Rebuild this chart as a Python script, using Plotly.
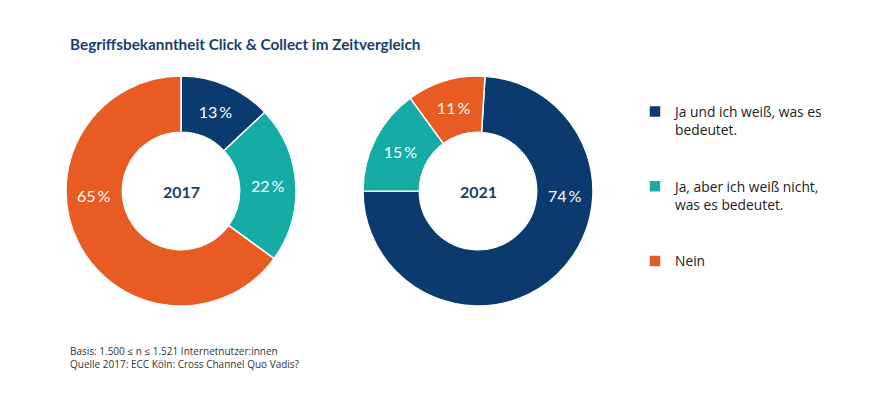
import plotly.graph_objects as go

labels = ["Ja und ich weiß, was es<br>bedeutet.",
          "Ja, aber ich weiß nicht,<br>was es bedeutet.",
          "Nein"]
legend_pad = ["<br> <br> ", "<br> <br> ", ""]
values_2017 = [13, 22, 65]
values_2021 = [74, 15, 11]
years = ["2017", "2021"]
colors = ["#0b3a6e", "#14aca4", "#e85c24"]

OFF = 8                      # page body margin of the browser
W, H = 887 - OFF, 408 - OFF
FONT = "Lato"
FONT2 = "Open Sans"
R, HOLE = 115, 0.51
legend_labels = [l + p for l, p in zip(labels, legend_pad)]

def px(x):
    return (x - OFF) / W

def py(y):
    return 1 - (y - OFF) / H

def dom(cx, cy, r):
    return dict(x=[px(cx - r), px(cx + r)], y=[py(cy + r), py(cy - r)])

fig = go.Figure()
pies = [(values_2017, 0, (181, 191), -1), (values_2021, 3.5, (478, 191), 1)]
r_mid = (R + HOLE * R) / 2
for vals, rot, (cx, cy), side in pies:
    big = vals.index(max(vals))
    tt = ["" if i == big else "%{value}\u2009%" for i in range(len(vals))]
    fig.add_trace(go.Pie(
        labels=legend_labels, values=vals, hole=HOLE, sort=False,
        direction="clockwise", rotation=rot,
        marker=dict(colors=colors, line=dict(color="white", width=1.5)),
        texttemplate=tt, textposition="inside",
        insidetextorientation="horizontal",
        textfont=dict(family=FONT, size=16, color="white"),
        hoverinfo="skip", domain=dom(cx, cy, R),
    ))
    # label of the largest slice sits at the side of the ring (as in the original)
    fig.add_annotation(x=px(cx + side * r_mid), y=py(cy + 4), xref="paper", yref="paper",
                       xanchor="center", yanchor="middle",
                       text=f"{vals[big]}\u2009%", showarrow=False,
                       font=dict(family=FONT, size=16, color="white"))

for yr, (_, _, (cx, cy), _) in zip(years, pies):
    fig.add_annotation(x=px(cx), y=py(cy), xref="paper", yref="paper",
                       xanchor="center", yanchor="middle",
                       text=f"<b>{yr}</b>", showarrow=False,
                       font=dict(family=FONT, size=16, color="#1b3d6e"))

fig.add_annotation(x=px(68), y=py(44), xref="paper", yref="paper",
                   xanchor="left", yanchor="middle", showarrow=False,
                   text="<b>Begriffsbekanntheit Click & Collect im Zeitvergleich</b>",
                   font=dict(family=FONT, size=15.3, color="#1b3d6e"))

fig.add_annotation(x=px(68), y=py(357), xref="paper", yref="paper",
                   xanchor="left", yanchor="middle", showarrow=False, align="left",
                   text="Basis: 1.500 ≤ n ≤ 1.521 Internetnutzer:innen<br>Quelle 2017: ECC Köln: Cross Channel Quo Vadis?",
                   font=dict(family=FONT2, size=10, color="#333333"))

fig.update_layout(
    width=W, height=H, margin=dict(l=0, r=0, t=0, b=0),
    paper_bgcolor="white", plot_bgcolor="white",
    showlegend=True,
    legend=dict(x=px(635), y=py(96), xanchor="left", yanchor="top",
                valign="top", font=dict(family=FONT2, size=13.8, color="#222222"),
                bgcolor="rgba(0,0,0,0)"),
)

fig.write_html("out.html")
